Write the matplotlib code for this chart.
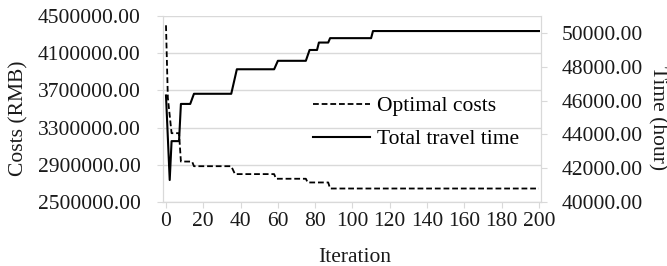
import matplotlib
matplotlib.use("Agg")
import matplotlib.pyplot as plt

plt.rcParams['font.family'] = ['Liberation Serif', 'DejaVu Serif']

# Optimal costs (left axis), change points
cost_iter = [0, 1, 3, 7, 8, 14, 15, 35, 37, 58, 59, 75, 76, 87, 88, 200]
cost_vals = [4400000, 3620000, 3240000, 3240000, 2935000, 2935000, 2885000, 2885000,
             2800000, 2800000, 2750000, 2750000, 2710000, 2710000, 2645000, 2645000]

# Total travel time (right axis), change points
time_iter = [0, 2, 3, 7, 8, 13, 15, 35, 38, 58, 60, 75, 77, 81, 82, 87, 88, 110, 111, 200]
time_vals = [46300, 41300, 43600, 43600, 45800, 45800, 46400, 46400, 47850, 47850,
             48350, 48350, 48990, 48990, 49430, 49430, 49690, 49690, 50110, 50110]

left_ticks = [2500000, 2900000, 3300000, 3700000, 4100000, 4500000]
right_ticks = [40000, 42000, 44000, 46000, 48000, 50000]
x_ticks = [0, 20, 40, 60, 80, 100, 120, 140, 160, 180, 200]

fig = plt.figure(figsize=(6.67, 2.66), dpi=100)
W, H = 667, 266
L, R, T, B = 163, 541, 16, 202
ax = fig.add_axes([L / W, 1 - B / H, (R - L) / W, (B - T) / H])
ax2 = ax.twinx()

grid_c = '#d9d9d9'
txt_c = '#1a1a1a'
fs = 15.5

l1, = ax.plot(cost_iter, cost_vals, color='black', linestyle=(0, (3.2, 1.6)), lw=1.3)
l2, = ax2.plot(time_iter, time_vals, color='black', linestyle='-', lw=1.5)

ax.set_xlim(-1.6, 201.1)
ax.set_ylim(2500000, 4500000)
ax2.set_ylim(40000, 51000)

ax.set_yticks(left_ticks)
ax.set_yticklabels([f'{v:.2f}' for v in left_ticks])
ax2.set_yticks(right_ticks)
ax2.set_yticklabels([f'{v:.2f}' for v in right_ticks])
ax.set_xticks(x_ticks)
ax.set_xticklabels([str(v) for v in x_ticks])

ax.grid(axis='y', color=grid_c, lw=1)
ax.set_axisbelow(True)

for a in (ax, ax2):
    for s in a.spines.values():
        s.set_color(grid_c)
    a.spines['top'].set_visible(False)
    a.tick_params(colors=grid_c, labelcolor=txt_c, labelsize=fs, length=4)
ax.tick_params(axis='y', pad=12)
ax2.tick_params(axis='y', pad=11)
ax.tick_params(axis='x', pad=3)

ax.set_ylabel('Costs (RMB)', fontsize=fs, color=txt_c, va='center', ha='center')
ax.yaxis.set_label_coords((19 - L) / (R - L), 1 - (118 - T) / (B - T))
ax2.set_ylabel('Time (hour)', fontsize=fs, color=txt_c, rotation=270, va='center', ha='center')
ax2.yaxis.set_label_coords((657 - L) / (R - L), 1 - (118 - T) / (B - T))
ax.set_xlabel('Iteration', fontsize=fs, color=txt_c, va='center', ha='center')
ax.xaxis.set_label_coords((355 - L) / (R - L), (B - 258) / (B - T))

ax2.legend([l1, l2], ['Optimal costs', 'Total travel time'], loc='upper left',
           bbox_to_anchor=((313 - L) / (R - L), 1 - (96 - T) / (B - T)),
           frameon=False, fontsize=fs, handlelength=2.65, handletextpad=0.33,
           labelspacing=0.6, borderpad=0, borderaxespad=0)

fig.savefig('out.png', dpi=100)
